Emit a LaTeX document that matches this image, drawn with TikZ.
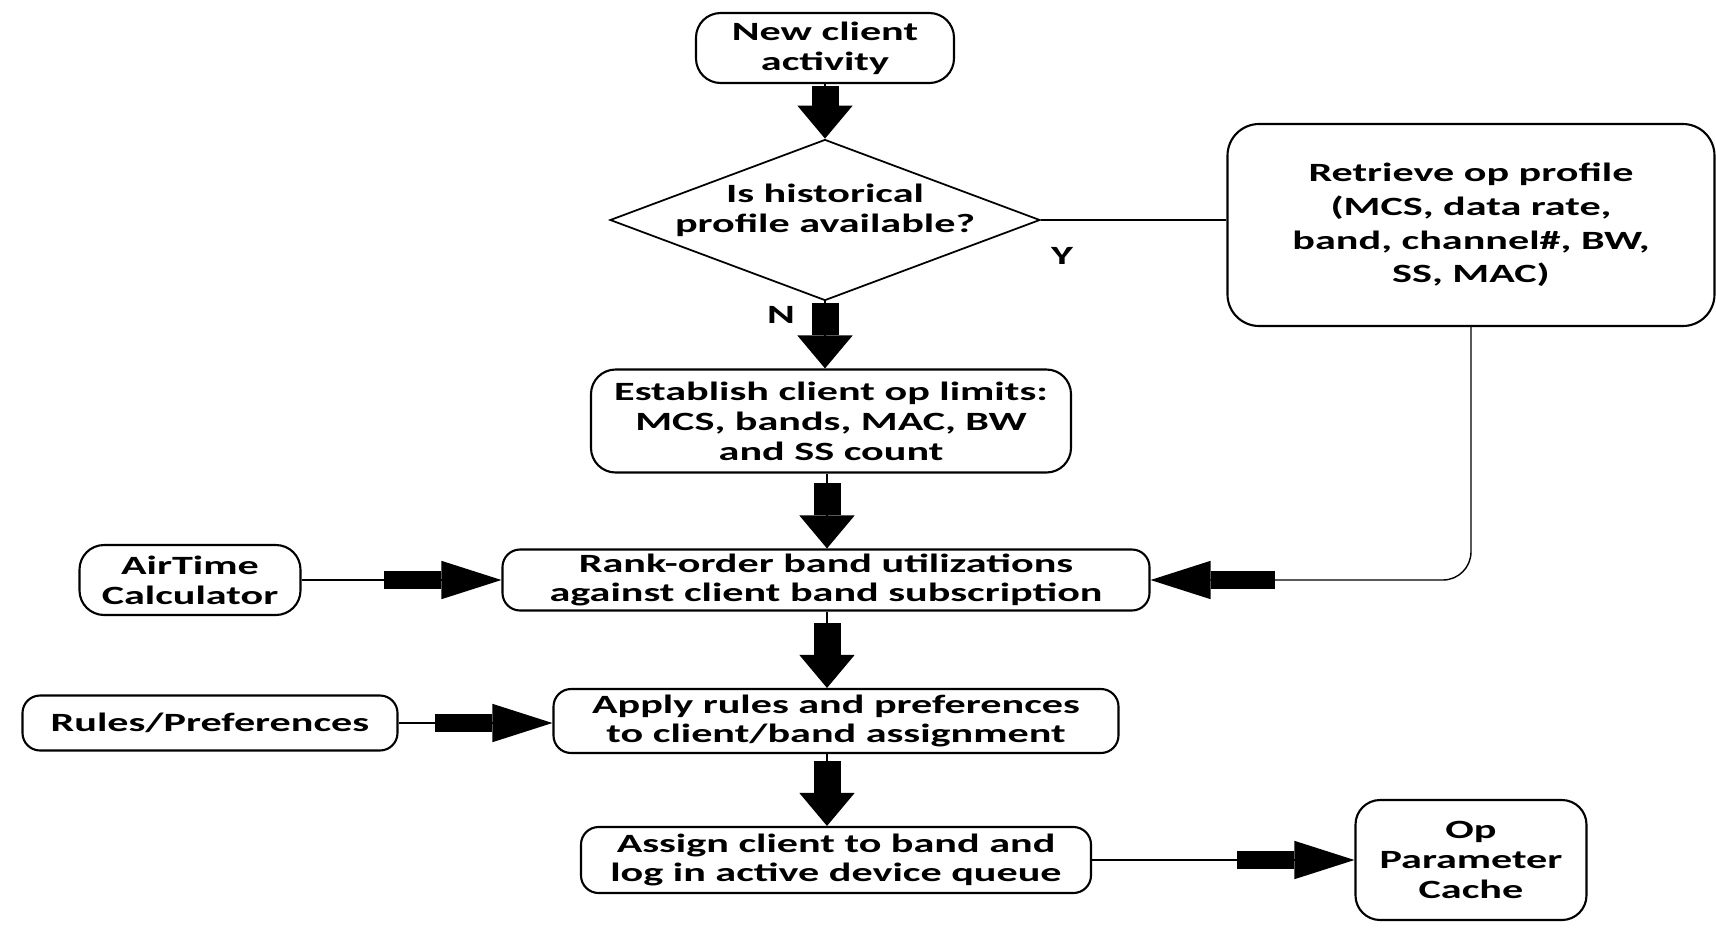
\documentclass[tikz,border=0pt]{standalone}
\usepackage{fontspec}
\newfontfamily\flowfont{Carlito}[FakeStretch=1.6]
\usetikzlibrary{arrows.meta,positioning,shapes.geometric}
\tikzset{
  % Rounded process box
  rbox/.style={rectangle,rounded corners=7pt,draw=black,line width=0.6pt,
    align=center,inner sep=0pt,
    font=\flowfont\bfseries\fontsize{7.5}{8.5}\selectfont},
  % Flat step box (small corners)
  fbox/.style={rbox,rounded corners=5pt},
  % Decision diamond (text may overlap the edges, size set by minimum width/height)
  dbox/.style={diamond,aspect=2.67,draw=black,line width=0.5pt,
    inner xsep=-0.6cm,inner ysep=-0.3cm,
    align=center,font=\flowfont\bfseries\fontsize{7.5}{8.5}\selectfont},
  % Arrows (thin line + block arrow)
  varr/.style={-{Rectangle[length=#1,width=2.7mm,sep=0pt]Triangle[length=3.3mm,width=5.5mm]},
    line width=0.4pt},
  varr/.default=3.2mm,
  harr/.style={-{Rectangle[length=#1,width=1.8mm,sep=0pt]Triangle[length=6mm,width=3.8mm]},
    line width=0.4pt},
  harr/.default=5.7mm,
  lbl/.style={font=\flowfont\bfseries\fontsize{7.5}{8.5}\selectfont},
}
\begin{document}
\begin{tikzpicture}
  \useasboundingbox (0,0) rectangle (17.16,-9.29);
  \coordinate (spine) at (8.27,0);

  % Main column
  \node[rbox,minimum width=2.58cm,minimum height=0.70cm] (new) at (8.25,-0.48)
    {New client\\activity};
  \node[dbox,minimum width=4.30cm,minimum height=1.61cm] (dia) at (8.25,-2.20)
    {Is historical\\profile available?\\[-1.7pt]};
  \node[rbox,minimum width=4.80cm,minimum height=1.03cm] (est) at (8.31,-4.21)
    {Establish client op limits:\\MCS, bands, MAC, BW\\and SS count};
  \node[fbox,minimum width=6.47cm,minimum height=0.61cm] (rank) at (8.26,-5.80)
    {Rank-order band utilizations\\against client band subscription};
  \node[fbox,minimum width=5.65cm,minimum height=0.64cm] (apply) at (8.36,-7.21)
    {Apply rules and preferences\\to client/band assignment};
  \node[fbox,minimum width=5.10cm,minimum height=0.66cm] (assign) at (8.36,-8.60)
    {Assign client to band and\\log in active device queue};

  % Side boxes
  \node[rbox,rounded corners=9pt,minimum width=4.87cm,minimum height=2.02cm,
    font=\flowfont\bfseries\fontsize{7.5}{9.6}\selectfont] (retr) at (14.71,-2.25)
    {Retrieve op profile\\(MCS, data rate,\\band, channel\#, BW,\\SS, MAC)};
  \node[rbox,minimum width=2.21cm,minimum height=0.70cm] (air) at (1.90,-5.80)
    {AirTime\\Calculator};
  \node[fbox,minimum width=3.75cm,minimum height=0.55cm] (rules) at (2.10,-7.23)
    {Rules/Preferences};
  \node[rbox,minimum width=2.31cm,minimum height=1.20cm] (op) at (14.71,-8.60)
    {Op\\Parameter\\Cache};

  \node[lbl] (ylab) at (10.62,-2.56) {Y};
  \node[lbl] (nlab) at (7.81,-3.15) {N};

  % Connectors
  \draw[varr=2mm] (new) -- (dia);
  \draw[varr] (dia.south) -- (dia.south |- est.north);
  \draw[varr] (est.south -| spine) -- (rank.north -| spine);
  \draw[varr] (rank.south -| spine) -- (apply.north -| spine);
  \draw[varr] (apply.south -| spine) -- (assign.north -| spine);

  \draw[line width=0.4pt] (dia.east) -- (dia.east -| retr.west);
  \draw[harr=6.4mm,rounded corners=8pt] (retr) |- (rank);
  \draw[harr] (air) -- (rank);
  \draw[harr] (rules) -- (rules -| apply.west);
  \draw[harr] (assign) -- (op);
\end{tikzpicture}
\end{document}
